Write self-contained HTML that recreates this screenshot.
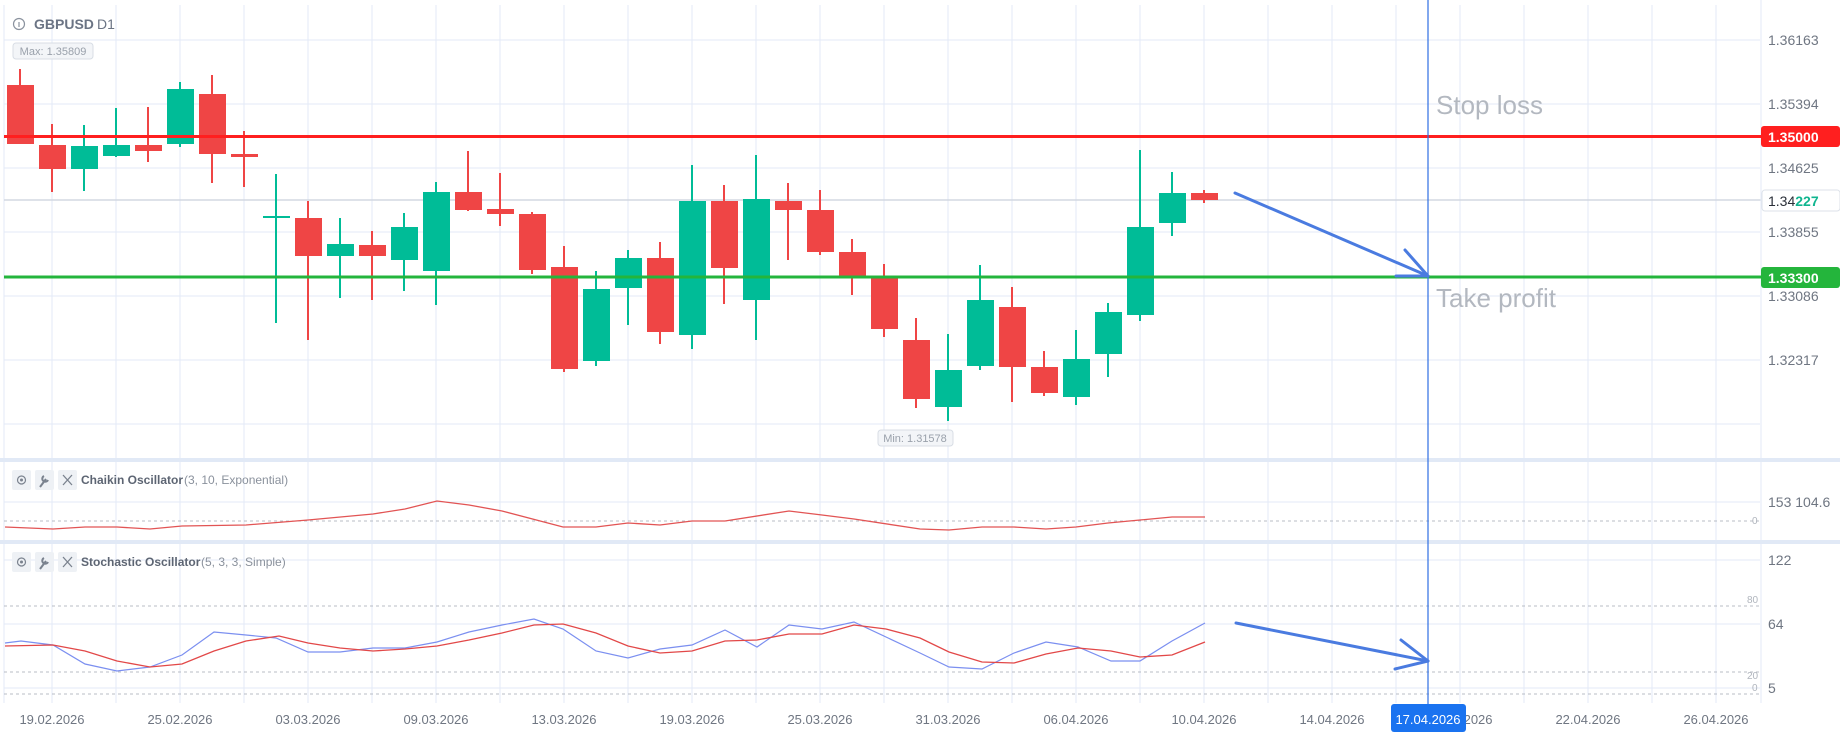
<!DOCTYPE html>
<html><head><meta charset="utf-8"><style>
html,body{margin:0;padding:0;background:#fff;width:1840px;height:732px;overflow:hidden}
svg{display:block;font-family:"Liberation Sans",sans-serif}
</style></head><body>
<svg width="1840" height="732" viewBox="0 0 1840 732" xmlns="http://www.w3.org/2000/svg">
<g stroke="#e3eaf7" stroke-width="1">
<line x1="4" y1="5" x2="4" y2="703"/>
<line x1="52" y1="5" x2="52" y2="703"/><line x1="116" y1="5" x2="116" y2="703"/><line x1="180" y1="5" x2="180" y2="703"/><line x1="244" y1="5" x2="244" y2="703"/><line x1="308" y1="5" x2="308" y2="703"/><line x1="372" y1="5" x2="372" y2="703"/><line x1="436" y1="5" x2="436" y2="703"/><line x1="500" y1="5" x2="500" y2="703"/><line x1="564" y1="5" x2="564" y2="703"/><line x1="628" y1="5" x2="628" y2="703"/><line x1="692" y1="5" x2="692" y2="703"/><line x1="756" y1="5" x2="756" y2="703"/><line x1="820" y1="5" x2="820" y2="703"/><line x1="884" y1="5" x2="884" y2="703"/><line x1="948" y1="5" x2="948" y2="703"/><line x1="1012" y1="5" x2="1012" y2="703"/><line x1="1076" y1="5" x2="1076" y2="703"/><line x1="1140" y1="5" x2="1140" y2="703"/><line x1="1204" y1="5" x2="1204" y2="703"/><line x1="1268" y1="5" x2="1268" y2="703"/><line x1="1332" y1="5" x2="1332" y2="703"/><line x1="1396" y1="5" x2="1396" y2="703"/><line x1="1460" y1="5" x2="1460" y2="703"/><line x1="1524" y1="5" x2="1524" y2="703"/><line x1="1588" y1="5" x2="1588" y2="703"/><line x1="1652" y1="5" x2="1652" y2="703"/><line x1="1716" y1="5" x2="1716" y2="703"/>
<line x1="4" y1="40" x2="1760" y2="40"/><line x1="4" y1="104" x2="1760" y2="104"/><line x1="4" y1="168" x2="1760" y2="168"/><line x1="4" y1="232" x2="1760" y2="232"/><line x1="4" y1="296" x2="1760" y2="296"/><line x1="4" y1="360" x2="1760" y2="360"/><line x1="4" y1="424" x2="1760" y2="424"/>
<line x1="4" y1="502" x2="1760" y2="502"/>
<line x1="4" y1="560" x2="1760" y2="560"/><line x1="4" y1="624" x2="1760" y2="624"/><line x1="4" y1="688" x2="1760" y2="688"/>
</g>
<line x1="4" y1="200" x2="1840" y2="200" stroke="#d3d8e2" stroke-width="1.5"/>
<line x1="1761" y1="0" x2="1761" y2="703" stroke="#e3eaf7"/>
<rect x="0" y="458" width="1840" height="4" fill="#e1e9f6"/>
<rect x="0" y="540" width="1840" height="4" fill="#e1e9f6"/>
<g stroke="#b8bcc4" stroke-width="1" stroke-dasharray="3,3">
<line x1="4" y1="521" x2="1760" y2="521"/><line x1="4" y1="606" x2="1760" y2="606"/><line x1="4" y1="672" x2="1760" y2="672"/><line x1="4" y1="694" x2="1760" y2="694"/>
</g>
<!-- candles -->
<g stroke-width="2">
<g fill="#ef4545" stroke="#ef4545">
<line x1="20" y1="69" x2="20" y2="144"/><rect x="7" y="85" width="27" height="59" stroke="none"/>
<line x1="52" y1="124" x2="52" y2="192"/><rect x="39" y="145" width="27" height="24" stroke="none"/>
<line x1="148" y1="107" x2="148" y2="162"/><rect x="135" y="145" width="27" height="6" stroke="none"/>
<line x1="212" y1="75" x2="212" y2="183"/><rect x="199" y="94" width="27" height="60" stroke="none"/>
<line x1="244" y1="131" x2="244" y2="187"/><rect x="231" y="154" width="27" height="3" stroke="none"/>
<line x1="308" y1="201" x2="308" y2="340"/><rect x="295" y="218" width="27" height="38" stroke="none"/>
<line x1="372" y1="231" x2="372" y2="300"/><rect x="359" y="245" width="27" height="11" stroke="none"/>
<line x1="468" y1="151" x2="468" y2="211"/><rect x="455" y="192" width="27" height="18" stroke="none"/>
<line x1="500" y1="173" x2="500" y2="226"/><rect x="487" y="209" width="27" height="5" stroke="none"/>
<line x1="532" y1="212" x2="532" y2="274"/><rect x="519" y="214" width="27" height="56" stroke="none"/>
<line x1="564" y1="246" x2="564" y2="372"/><rect x="551" y="267" width="27" height="102" stroke="none"/>
<line x1="660" y1="242" x2="660" y2="344"/><rect x="647" y="258" width="27" height="74" stroke="none"/>
<line x1="724" y1="185" x2="724" y2="304"/><rect x="711" y="201" width="27" height="67" stroke="none"/>
<line x1="788" y1="183" x2="788" y2="260"/><rect x="775" y="201" width="27" height="9" stroke="none"/>
<line x1="820" y1="190" x2="820" y2="255"/><rect x="807" y="210" width="27" height="42" stroke="none"/>
<line x1="852" y1="239" x2="852" y2="295"/><rect x="839" y="252" width="27" height="25" stroke="none"/>
<line x1="884" y1="264" x2="884" y2="337"/><rect x="871" y="277" width="27" height="52" stroke="none"/>
<line x1="916" y1="318" x2="916" y2="408"/><rect x="903" y="340" width="27" height="59" stroke="none"/>
<line x1="1012" y1="287" x2="1012" y2="402"/><rect x="999" y="307" width="27" height="60" stroke="none"/>
<line x1="1044" y1="351" x2="1044" y2="396"/><rect x="1031" y="367" width="27" height="26" stroke="none"/>
<line x1="1204" y1="190" x2="1204" y2="203"/><rect x="1191" y="193" width="27" height="7" stroke="none"/>
</g>
<g fill="#00bc97" stroke="#00bc97">
<line x1="84" y1="125" x2="84" y2="191"/><rect x="71" y="146" width="27" height="23" stroke="none"/>
<line x1="116" y1="108" x2="116" y2="157"/><rect x="103" y="145" width="27" height="11" stroke="none"/>
<line x1="180" y1="82" x2="180" y2="147"/><rect x="167" y="89" width="27" height="55" stroke="none"/>
<line x1="276" y1="174" x2="276" y2="323"/><rect x="263" y="216" width="27" height="2" stroke="none"/>
<line x1="340" y1="218" x2="340" y2="298"/><rect x="327" y="244" width="27" height="12" stroke="none"/>
<line x1="404" y1="213" x2="404" y2="291"/><rect x="391" y="227" width="27" height="33" stroke="none"/>
<line x1="436" y1="182" x2="436" y2="305"/><rect x="423" y="192" width="27" height="79" stroke="none"/>
<line x1="596" y1="271" x2="596" y2="366"/><rect x="583" y="289" width="27" height="72" stroke="none"/>
<line x1="628" y1="250" x2="628" y2="325"/><rect x="615" y="258" width="27" height="30" stroke="none"/>
<line x1="692" y1="165" x2="692" y2="349"/><rect x="679" y="201" width="27" height="134" stroke="none"/>
<line x1="756" y1="155" x2="756" y2="340"/><rect x="743" y="199" width="27" height="101" stroke="none"/>
<line x1="948" y1="334" x2="948" y2="421"/><rect x="935" y="370" width="27" height="37" stroke="none"/>
<line x1="980" y1="265" x2="980" y2="370"/><rect x="967" y="300" width="27" height="66" stroke="none"/>
<line x1="1076" y1="330" x2="1076" y2="405"/><rect x="1063" y="359" width="27" height="38" stroke="none"/>
<line x1="1108" y1="303" x2="1108" y2="377"/><rect x="1095" y="312" width="27" height="42" stroke="none"/>
<line x1="1140" y1="150" x2="1140" y2="321"/><rect x="1127" y="227" width="27" height="88" stroke="none"/>
<line x1="1172" y1="172" x2="1172" y2="236"/><rect x="1159" y="193" width="27" height="30" stroke="none"/>
</g>
</g>
<line x1="4" y1="136.5" x2="1761" y2="136.5" stroke="#ff1f1f" stroke-width="3"/>
<line x1="4" y1="277" x2="1761" y2="277" stroke="#24b53c" stroke-width="3"/>
<line x1="1428" y1="0" x2="1428" y2="704" stroke="#2f6fe3" stroke-width="1.2"/>
<!-- arrows -->
<g stroke="#4a7be0" stroke-width="3" fill="none" stroke-linecap="round">
<line x1="1235" y1="193" x2="1428" y2="276"/><line x1="1405" y1="250" x2="1428" y2="276"/><line x1="1396" y1="276" x2="1428" y2="276"/>
<line x1="1236" y1="623" x2="1428" y2="661"/><line x1="1401" y1="640" x2="1428" y2="661"/><line x1="1395" y1="669" x2="1428" y2="661"/>
</g>
<text x="1436" y="114" font-size="26" fill="#b3b8c0">Stop loss</text>
<text x="1436" y="307" font-size="26" fill="#b3b8c0">Take profit</text>
<!-- header -->
<circle cx="19" cy="24" r="5.5" fill="none" stroke="#8a929e" stroke-width="1.2"/>
<line x1="19" y1="22" x2="19" y2="27" stroke="#8a929e" stroke-width="1.2"/>
<text x="34" y="29" font-size="14" font-weight="bold" fill="#6b7484">GBPUSD</text>
<text x="97" y="29" font-size="14" fill="#6b7484">D1</text>
<rect x="13" y="43" width="80" height="16" rx="3" fill="#f3f5f8" stroke="#d8dde5"/>
<text x="53" y="55" font-size="11" fill="#9aa1ab" text-anchor="middle">Max: 1.35809</text>
<rect x="878" y="430" width="75" height="16" rx="3" fill="#f3f5f8" stroke="#d8dde5"/>
<text x="915" y="442" font-size="11" fill="#9aa1ab" text-anchor="middle">Min: 1.31578</text>
<!-- price axis -->
<g font-size="14" fill="#6f7682">
<text x="1768" y="45">1.36163</text><text x="1768" y="109">1.35394</text><text x="1768" y="173">1.34625</text><text x="1768" y="237">1.33855</text><text x="1768" y="301">1.33086</text><text x="1768" y="365">1.32317</text>
</g>
<rect x="1761" y="126" width="79" height="21" rx="3" fill="#ff1f1f"/>
<text x="1768" y="142" font-size="14" font-weight="bold" fill="#fff">1.35000</text>
<rect x="1761" y="267" width="79" height="21" rx="3" fill="#24b53c"/>
<text x="1768" y="283" font-size="14" font-weight="bold" fill="#fff">1.33300</text>
<rect x="1762" y="190" width="78" height="21" rx="3" fill="#fff" stroke="#dde2ea"/>
<text x="1768" y="206" font-size="14" fill="#2a2f38">1.34<tspan fill="#10b58f" font-weight="bold">227</tspan></text>
<!-- Chaikin -->
<g fill="#eef1f5"><rect x="12" y="470" width="19" height="20" rx="2"/><rect x="35" y="470" width="19" height="20" rx="2"/><rect x="58" y="470" width="19" height="20" rx="2"/></g>
<circle cx="21.5" cy="480" r="4" fill="none" stroke="#7a828e" stroke-width="1.2"/><circle cx="21.5" cy="480" r="1.5" fill="#7a828e"/>
<path d="M40 487 L46 479 M44 476 a3 3 0 1 0 4 4" stroke="#7a828e" stroke-width="2" fill="none"/>
<path d="M63 475 L72 485 M72 475 L63 485" stroke="#7a828e" stroke-width="1.3"/>
<text x="81" y="484" font-size="12" font-weight="bold" fill="#5d6573">Chaikin Oscillator</text>
<text x="184" y="484" font-size="12" fill="#8a919c">(3, 10, Exponential)</text>
<polyline fill="none" stroke="#e25454" stroke-width="1.3" points="5,527 53,529 85,527 117,527 150,529 182,526 246,525 308,520 373,514 405,509 437,501 469,505 502,511 563,527 596,527 628,523 660,525 692,521 725,521 789,511 822,515 854,519 920,529 949,530 982,527 1014,527 1046,529 1076,527 1108,523 1140,520 1172,517 1205,517"/>
<text x="1768" y="507" font-size="14" fill="#6f7682">153 104.6</text>
<text x="1752" y="524" font-size="10" fill="#b0b5bd">0</text>
<!-- Stochastic -->
<g fill="#eef1f5"><rect x="12" y="552" width="19" height="20" rx="2"/><rect x="35" y="552" width="19" height="20" rx="2"/><rect x="58" y="552" width="19" height="20" rx="2"/></g>
<circle cx="21.5" cy="562" r="4" fill="none" stroke="#7a828e" stroke-width="1.2"/><circle cx="21.5" cy="562" r="1.5" fill="#7a828e"/>
<path d="M40 569 L46 561 M44 558 a3 3 0 1 0 4 4" stroke="#7a828e" stroke-width="2" fill="none"/>
<path d="M63 557 L72 567 M72 557 L63 567" stroke="#7a828e" stroke-width="1.3"/>
<text x="81" y="566" font-size="12" font-weight="bold" fill="#5d6573">Stochastic Oscillator</text>
<text x="201" y="566" font-size="12" fill="#8a919c">(5, 3, 3, Simple)</text>
<polyline fill="none" stroke="#7b8ff0" stroke-width="1.2" points="5,643 21,641 53,645 85,664 117,671 150,667 182,655 214,632 246,635 276,638 308,652 340,652 373,648 405,648 437,642 469,632 502,625 534,619 563,629 596,651 628,658 660,649 692,645 725,630 757,647 789,625 822,629 854,622 886,637 920,653 949,667 982,669 1014,653 1046,642 1078,647 1111,661 1140,661 1172,641 1205,623"/>
<polyline fill="none" stroke="#e24848" stroke-width="1.3" points="5,646 53,645 85,651 117,661 150,667 182,664 214,651 246,641 279,636 308,643 340,648 373,651 405,649 437,646 469,640 502,633 534,625 563,624 596,633 628,646 660,653 692,651 725,641 757,640 789,634 822,634 854,625 886,629 920,638 949,652 982,662 1014,663 1046,654 1078,648 1111,651 1140,657 1172,655 1205,642"/>
<g font-size="14" fill="#6f7682"><text x="1768" y="565">122</text><text x="1768" y="629">64</text><text x="1768" y="693">5</text></g>
<g font-size="10" fill="#b0b5bd"><text x="1747" y="603">80</text><text x="1747" y="679">20</text><text x="1752" y="691">0</text></g>
<!-- date axis -->
<g font-size="13" fill="#6f7682" text-anchor="middle">
<text x="52" y="724">19.02.2026</text><text x="180" y="724">25.02.2026</text><text x="308" y="724">03.03.2026</text><text x="436" y="724">09.03.2026</text><text x="564" y="724">13.03.2026</text><text x="692" y="724">19.03.2026</text><text x="820" y="724">25.03.2026</text><text x="948" y="724">31.03.2026</text><text x="1076" y="724">06.04.2026</text><text x="1204" y="724">10.04.2026</text><text x="1332" y="724">14.04.2026</text><text x="1460" y="724">18.04.2026</text><text x="1588" y="724">22.04.2026</text><text x="1716" y="724">26.04.2026</text>
</g>
<rect x="1391" y="704" width="75" height="28" rx="3" fill="#1a73f0"/>
<text x="1428" y="724" font-size="13" fill="#fff" text-anchor="middle">17.04.2026</text>
</svg>
</body></html>
